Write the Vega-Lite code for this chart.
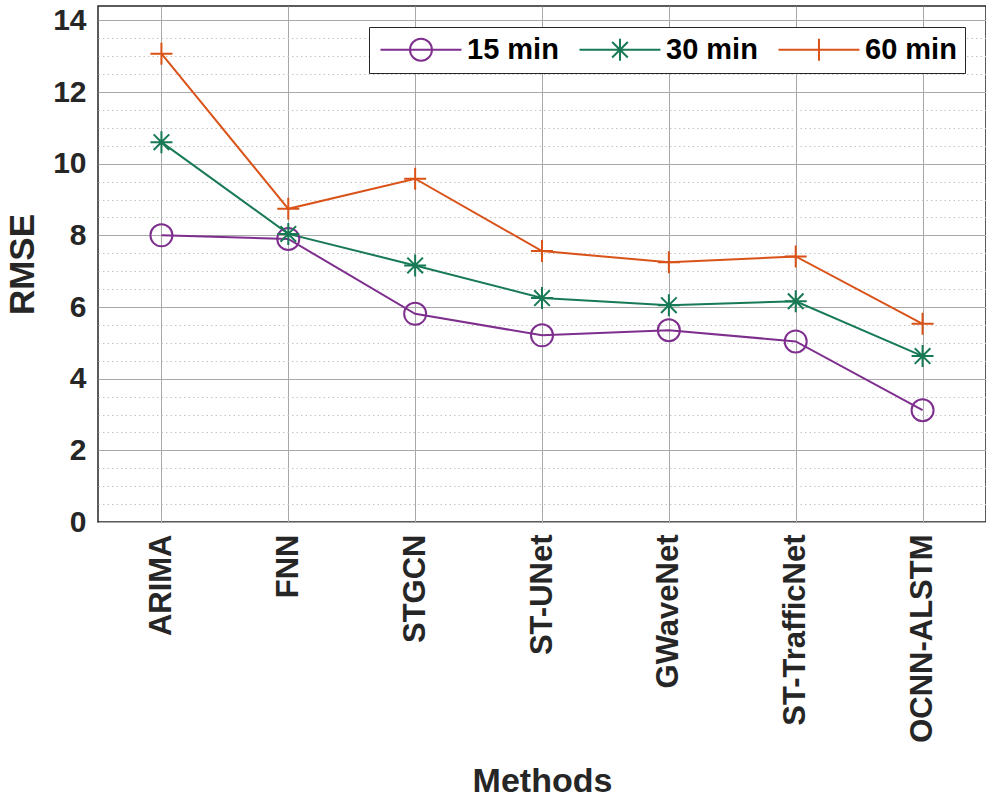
{
  "$schema": "https://vega.github.io/schema/vega-lite/v6.json",
  "width": 888,
  "height": 516,
  "padding": {"left": 5, "top": 5, "right": 0, "bottom": 0},
  "background": "white",
  "config": {
    "font": "Liberation Sans",
    "view": {"stroke": "#262626", "strokeWidth": 1.5}
  },
  "data": {
    "values": [
      {"method": "ARIMA", "series": "15 min", "rmse": 8.0},
      {"method": "FNN", "series": "15 min", "rmse": 7.9},
      {"method": "STGCN", "series": "15 min", "rmse": 5.81},
      {"method": "ST-UNet", "series": "15 min", "rmse": 5.21},
      {"method": "GWaveNet", "series": "15 min", "rmse": 5.35},
      {"method": "ST-TrafficNet", "series": "15 min", "rmse": 5.04},
      {"method": "OCNN-ALSTM", "series": "15 min", "rmse": 3.12},
      {"method": "ARIMA", "series": "30 min", "rmse": 10.6},
      {"method": "FNN", "series": "30 min", "rmse": 8.04},
      {"method": "STGCN", "series": "30 min", "rmse": 7.16},
      {"method": "ST-UNet", "series": "30 min", "rmse": 6.25},
      {"method": "GWaveNet", "series": "30 min", "rmse": 6.05},
      {"method": "ST-TrafficNet", "series": "30 min", "rmse": 6.16},
      {"method": "OCNN-ALSTM", "series": "30 min", "rmse": 4.63},
      {"method": "ARIMA", "series": "60 min", "rmse": 13.07},
      {"method": "FNN", "series": "60 min", "rmse": 8.74},
      {"method": "STGCN", "series": "60 min", "rmse": 9.58},
      {"method": "ST-UNet", "series": "60 min", "rmse": 7.56},
      {"method": "GWaveNet", "series": "60 min", "rmse": 7.25},
      {"method": "ST-TrafficNet", "series": "60 min", "rmse": 7.41},
      {"method": "OCNN-ALSTM", "series": "60 min", "rmse": 5.53}
    ]
  },
  "encoding": {
    "x": {
      "field": "method",
      "type": "nominal",
      "sort": null,
      "scale": {"type": "point", "padding": 0.5},
      "axis": {
        "title": "Methods",
        "titleFont": "Liberation Sans",
        "titleFontSize": 34,
        "titleFontWeight": "bold",
        "titleColor": "#262626",
        "titlePadding": 42,
        "labelAngle": 270,
        "labelAlign": "right",
        "labelBaseline": "middle",
        "labelFontSize": 31,
        "labelFontWeight": "bold",
        "labelColor": "#262626",
        "labelPadding": 12,
        "labelLimit": 0,
        "ticks": false,
        "domain": false,
        "grid": true,
        "gridColor": "#a8a8a8",
        "gridWidth": 1
      }
    },
    "y": {
      "field": "rmse",
      "type": "quantitative",
      "scale": {"domain": [0, 14.4], "nice": false, "zero": true},
      "axis": {
        "title": "RMSE",
        "titleFont": "Liberation Sans",
        "titleFontSize": 35,
        "titleFontWeight": "bold",
        "titleColor": "#262626",
        "titlePadding": 12,
        "values": [0, 0.5, 1, 1.5, 2, 2.5, 3, 3.5, 4, 4.5, 5, 5.5, 6, 6.5, 7, 7.5, 8, 8.5, 9, 9.5, 10, 10.5, 11, 11.5, 12, 12.5, 13, 13.5, 14],
        "format": ".0f",
        "labelExpr": "datum.value % 2 === 0 ? datum.label : ''",
        "labelFontSize": 30,
        "labelFontWeight": "bold",
        "labelColor": "#262626",
        "labelPadding": 12,
        "ticks": false,
        "domain": false,
        "grid": true,
        "gridColor": {"condition": {"test": "datum.value % 2 === 0", "value": "#a8a8a8"}, "value": "#c4c4c4"},
        "gridDash": {"condition": {"test": "datum.value % 2 === 0", "value": []}, "value": [1.5, 3]},
        "gridWidth": 1
      }
    },
    "color": {
      "field": "series",
      "type": "nominal",
      "scale": {"domain": ["15 min", "30 min", "60 min"], "range": ["#7E2F8E", "#177A55", "#D95319"]},
      "legend": {
        "title": null,
        "orient": "top-right",
        "offset": 21,
        "direction": "horizontal",
        "labelFont": "Liberation Sans",
        "labelFontSize": 29,
        "labelFontWeight": "bold",
        "labelColor": "black",
        "labelOffset": 61,
        "columnPadding": 16,
        "symbolSize": 484,
        "symbolStrokeWidth": 2,
        "padding": 8,
        "strokeColor": "#262626",
        "fillColor": "white",
        "encode": {
          "symbols": {
            "update": {
              "shape": {"signal": "datum.value === '15 min' ? 'M-1,0H6.36M3.68,0A1,1 0 1,1 1.68,0A1,1 0 1,1 3.68,0' : datum.value === '30 min' ? 'M-1,0H6.36M2.68,-1V1M1.97,-0.71L3.39,0.71M1.97,0.71L3.39,-0.71' : 'M-1,0H6.36M2.68,-1V1'"},
              "fill": {"value": "transparent"},
              "strokeWidth": {"value": 2}
            }
          }
        }
      }
    }
  },
  "layer": [
    {
      "mark": {"type": "line", "strokeWidth": 2},
      "encoding": {}
    },
    {
      "transform": [{"filter": "datum.series === '15 min'"}],
      "mark": {"type": "point", "shape": "circle", "filled": false, "strokeWidth": 2, "size": 484, "opacity": 1},
      "encoding": {}
    },
    {
      "transform": [{"filter": "datum.series === '30 min'"}],
      "mark": {"type": "point", "shape": "M-1,0H1M0,-1V1M-0.71,-0.71L0.71,0.71M-0.71,0.71L0.71,-0.71", "filled": false, "strokeWidth": 2, "size": 484, "opacity": 1},
      "encoding": {}
    },
    {
      "transform": [{"filter": "datum.series === '60 min'"}],
      "mark": {"type": "point", "shape": "M-1,0H1M0,-1V1", "filled": false, "strokeWidth": 2, "size": 484, "opacity": 1},
      "encoding": {}
    }
  ]
}
